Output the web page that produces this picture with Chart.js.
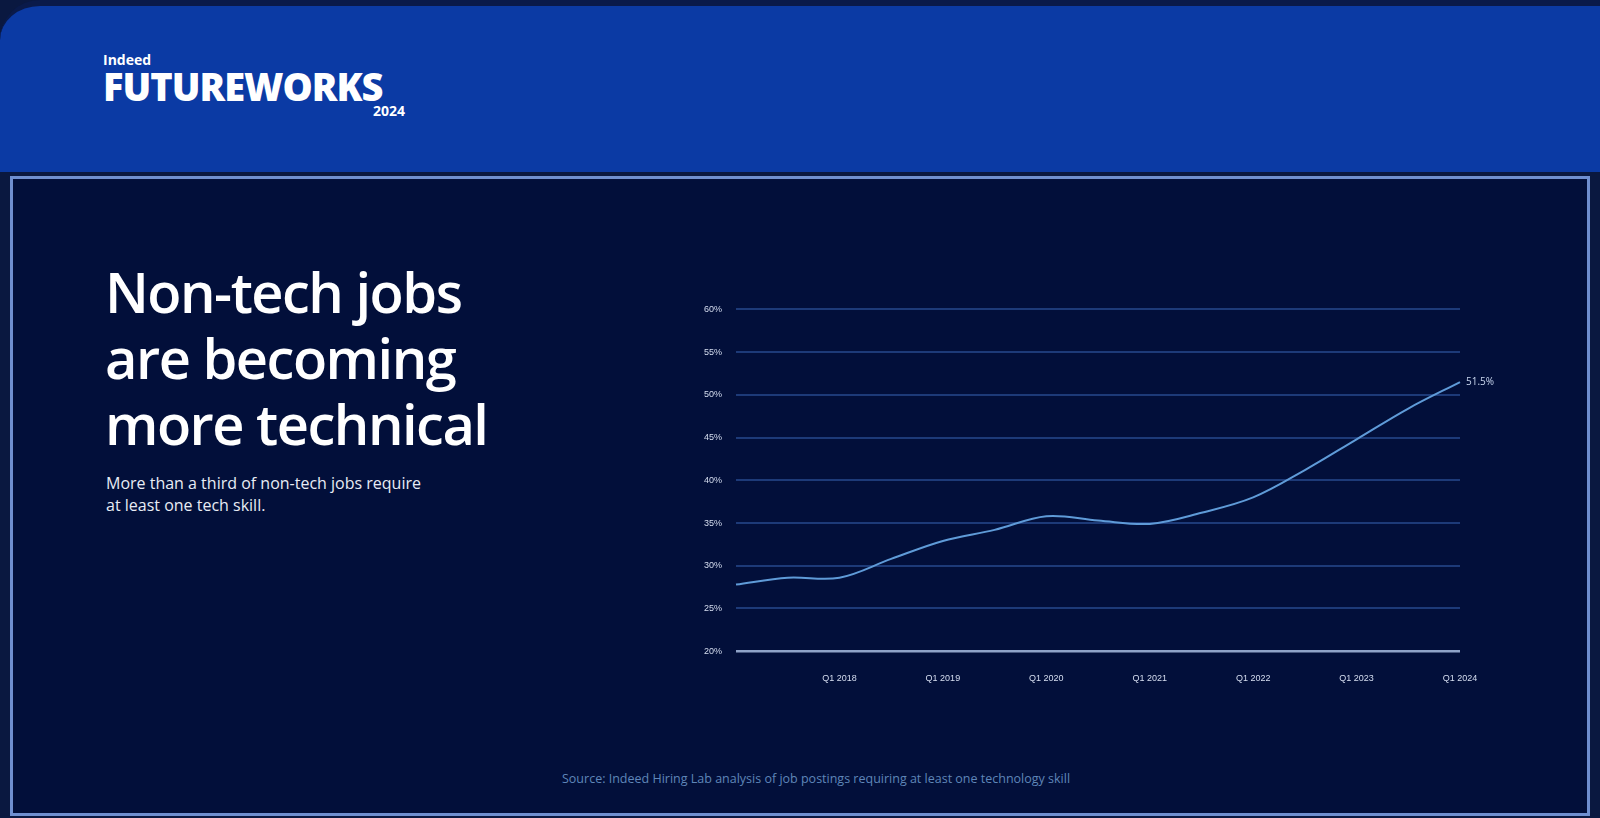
<!DOCTYPE html>
<html><head><meta charset="utf-8">
<script src="https://cdn.jsdelivr.net/npm/chart.js@4"></script>
<style>
  body{margin:0;width:1600px;height:818px;overflow:hidden;background:#0a1840;font-family:"Open Sans",sans-serif;}
  .top{position:absolute;left:0;top:0;width:1600px;height:172px;background:#0b3aa4;border-top-left-radius:40px;border-top:6px solid #0a1a4a;box-sizing:border-box;}
  .panel{position:absolute;left:10px;top:176px;width:1580px;height:640px;background:#020f3a;border:3px solid #6f8fd0;box-sizing:border-box;}
  .logo{position:absolute;left:103px;top:50px;color:#fff;}
  .logo .s{font-size:14px;font-weight:700;}
  .logo .b{font-size:38px;font-weight:800;letter-spacing:-1px;line-height:34px;}
  .logo .y{font-size:14px;font-weight:700;margin-left:270px;margin-top:-2px}
  h1{position:absolute;left:105px;top:258px;margin:0;color:#fff;font-size:56px;font-weight:600;line-height:66px;letter-spacing:-1.5px;}
  .sub{position:absolute;left:106px;top:472px;color:#e8ecf5;font-size:16px;line-height:22px;width:440px;}
  .src{position:absolute;left:562px;top:770px;color:#5f86b8;font-size:12.5px;}
  #wrap{position:absolute;left:690px;top:290px;width:840px;height:408px;}
</style></head><body>
<div class="top"></div>
<div class="panel"></div>
<div class="logo"><div class="s">Indeed</div><div class="b">FUTUREWORKS</div><div class="y">2024</div></div>
<h1>Non-tech jobs<br>are becoming<br>more technical</h1>
<div class="sub">More than a third of non-tech jobs require<br>at least one tech skill.</div>
<div class="src">Source: Indeed Hiring Lab analysis of job postings requiring at least one technology skill</div>
<div id="wrap"><canvas id="c"></canvas></div>
<script>
var periods = ['', '', 'Q1 2018', '', 'Q1 2019', '', 'Q1 2020', '', 'Q1 2021', '', 'Q1 2022', '', 'Q1 2023', '', 'Q1 2024'];
var shareTechSkill = [27.8, 28.6, 28.6, 30.8, 32.9, 34.2, 35.8, 35.3, 34.9, 36.2, 38.0, 41.2, 44.8, 48.4, 51.5];
var yTicks = [20, 25, 30, 35, 40, 45, 50, 55, 60];

var endLabel = {
  id: 'endLabel',
  afterDatasetsDraw: function(chart){
    var meta = chart.getDatasetMeta(0);
    var p = meta.data[meta.data.length - 1];
    var ctx = chart.ctx;
    ctx.save();
    ctx.fillStyle = '#c9d6ee';
    ctx.font = '10px "Open Sans"';
    ctx.textBaseline = 'middle';
    ctx.fillText(shareTechSkill[shareTechSkill.length - 1].toFixed(1) + '%', p.x + 6, p.y);
    ctx.restore();
  }
};

new Chart(document.getElementById('c'), {
  type: 'line',
  data: {
    labels: periods,
    datasets: [{
      data: shareTechSkill,
      borderColor: '#5f9bd8',
      borderWidth: 2,
      pointRadius: 0,
      tension: 0.35
    }]
  },
  options: {
    responsive: true,
    maintainAspectRatio: false,
    animation: false,
    layout: { padding: { top: 10, right: 70, bottom: 0, left: 0 } },
    plugins: { legend: { display: false }, tooltip: { enabled: false } },
    scales: {
      x: {
        offset: false,
        grid: { display: false },
        border: { display: false },
        ticks: { color: '#d6def0', font: { size: 9 }, autoSkip: false, maxRotation: 0, padding: 14 }
      },
      y: {
        min: 20, max: 60,
        afterBuildTicks: function(axis){ axis.ticks = yTicks.map(function(v){ return { value: v }; }); },
        grid: {
          color: function(c){ return c.tick.value === 20 ? '#8fa3c8' : '#1d3a78'; },
          lineWidth: function(c){ return c.tick.value === 20 ? 2.5 : 2; },
          drawTicks: false
        },
        border: { display: false },
        ticks: { color: '#d6def0', font: { size: 9 }, padding: 14, callback: function(v){ return v + '%'; } }
      }
    }
  },
  plugins: [endLabel]
});
</script>
</body></html>
